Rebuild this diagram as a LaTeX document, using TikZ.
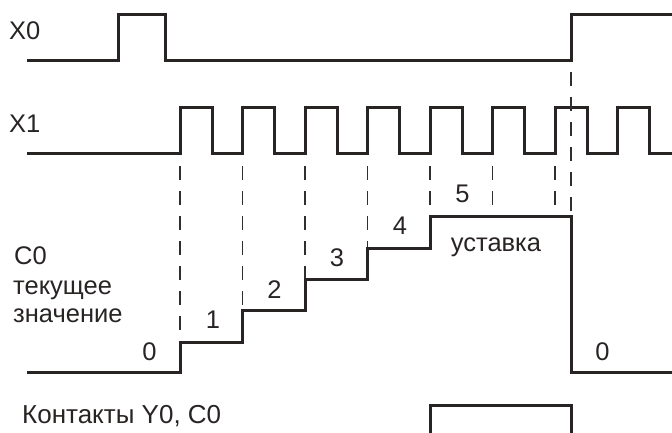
\documentclass[tikz,border=0pt]{standalone}
\usepackage{fontspec}
\setmainfont{Liberation Sans}
\usetikzlibrary{positioning}
\definecolor{sigdark}{RGB}{40,36,35}
\definecolor{guidegray}{RGB}{48,46,46}
\tikzset{
  signal/.style={draw=sigdark, line width=3pt, line join=miter},
  guide/.style={draw=guidegray, line width=1.9pt, dash pattern=on 14pt off 11pt},
  lbl/.style={font=\fontsize{25.5}{30}\selectfont, text=sigdark, inner sep=0pt},
  cnt/.style={lbl, anchor=center},
}
\begin{document}
\begin{tikzpicture}[x=1pt,y=-1pt]
  \useasboundingbox (0,0) rectangle (672,432);
  % input X0
  \node[lbl, anchor=base west] (x0lbl) at (9,39) {X0};
  \draw[signal] (27,60) -- (118,60) -- (118,14) -- (165,14) -- (165,60)
    -- (571,60) -- (571,14) -- (672,14);
  % input X1, counting pulses
  \node[lbl, anchor=base west] (x1lbl) at (9,132) {X1};
  \draw[signal] (27,153) -- (180,153)
    \foreach \i in {0,...,7} {
      -- ({180+62.5*\i},107) -- ({212+62.5*\i},107)
      -- ({212+62.5*\i},153) -- ({242.5+62.5*\i},153)
    };
  % guide lines
  \foreach \x/\y in {180/342, 242.5/310, 305/279, 367.5/248, 430/216, 492.5/216, 555/216}
    \draw[guide] (\x,166) -- (\x,\y);
  \draw[guide] (571,72) -- (571,216);
  % counter C0 current value
  \node[lbl, anchor=base west] (c0lbl) at (14,264) {C0};
  \node[lbl, anchor=base west] (curlbl) at (13,294) {текущее};
  \node[lbl, anchor=base west] (vallbl) at (13,322) {значение};
  \draw[signal] (27,372) -- (180,372) -- (180,342) -- (242.5,342) -- (242.5,310)
    -- (305,310) -- (305,279) -- (367.5,279) -- (367.5,248) -- (430,248)
    -- (430,216) -- (571,216) -- (571,372) -- (672,372);
  \node[cnt] (n0) at (149.5,351.5) {0};
  \node[cnt] (n1) at (213,319.5) {1};
  \node[cnt] (n2) at (274.5,289.5) {2};
  \node[cnt] (n3) at (337,258) {3};
  \node[cnt] (n4) at (400,226) {4};
  \node[cnt] (n5) at (462.5,194) {5};
  \node[lbl, anchor=base] (setlbl) at (496,251) {уставка};
  \node[cnt] (nr) at (602.5,351.5) {0};
  % contacts Y0, C0
  \node[lbl, anchor=base west, font=\fontsize{26}{30}\selectfont] (ctlbl) at (22,423) {Контакты Y0, C0};
  \draw[signal] (430,440) -- (430,405) -- (571,405) -- (571,440);
\end{tikzpicture}
\end{document}
